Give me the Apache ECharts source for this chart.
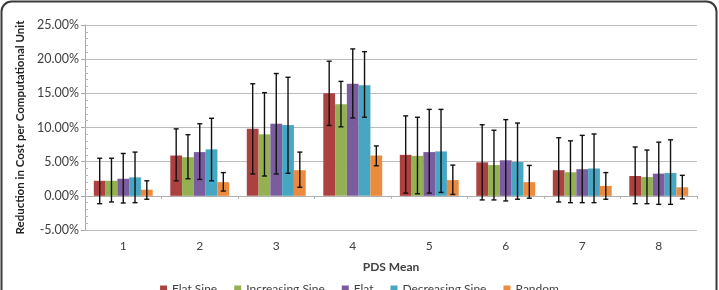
<!DOCTYPE html>
<html>
<head>
<meta charset="utf-8">
<script src="https://cdn.jsdelivr.net/npm/echarts@6/dist/echarts.min.js"></script>
<style>
html,body{margin:0;padding:0;background:#fff;}
#chart{width:719px;height:290px;}
</style>
</head>
<body>
<div id="chart"></div>
<script>
// ---- data (values in %) ----
const categories = ['1','2','3','4','5','6','7','8'];
const seriesNames = ['Flat Sine','Increasing Sine','Flat','Decreasing Sine','Random'];
const seriesColors = ['#AB423F','#93B153','#7B5C9E','#47A6C2','#EC8B3D'];

const flatSine      = [2.2, 5.9, 9.8, 15.0, 6.0, 4.9, 3.75, 2.9];
const flatSineLow   = [-1.15, 2.2, 3.2, 10.3, 0.4, -0.6, -0.9, -1.15];
const flatSineHigh  = [5.5, 9.8, 16.4, 19.7, 11.7, 10.4, 8.5, 7.15];

const incSine       = [2.2, 5.65, 9.0, 13.4, 5.85, 4.5, 3.45, 2.75];
const incSineLow    = [-0.9, 2.5, 2.9, 10.1, 0.3, -0.6, -1.0, -1.15];
const incSineHigh   = [5.5, 8.95, 15.1, 16.75, 11.5, 9.6, 8.05, 6.7];

const flat          = [2.5, 6.4, 10.55, 16.4, 6.4, 5.2, 3.9, 3.25];
const flatLow       = [-1.05, 2.4, 3.2, 11.4, 0.4, -0.75, -1.0, -1.25];
const flatHigh      = [6.2, 10.55, 17.9, 21.5, 12.65, 11.15, 8.85, 7.85];

const decSine       = [2.7, 6.8, 10.35, 16.2, 6.5, 4.95, 4.0, 3.35];
const decSineLow    = [-1.0, 2.2, 3.3, 11.5, 0.5, -0.5, -1.0, -1.25];
const decSineHigh   = [6.4, 11.35, 17.35, 21.1, 12.65, 10.65, 9.05, 8.2];

const random        = [0.9, 2.0, 3.75, 5.9, 2.3, 2.0, 1.45, 1.25];
const randomLow     = [-0.5, 0.7, 1.25, 4.4, 0.2, -0.35, -0.5, -0.45];
const randomHigh    = [2.2, 3.4, 6.4, 7.3, 4.5, 4.45, 3.4, 3.0];

const yMin = -5, yMax = 25, yStep = 5;

const values = [flatSine, incSine, flat, decSine, random];
const lows   = [flatSineLow, incSineLow, flatLow, decSineLow, randomLow];
const highs  = [flatSineHigh, incSineHigh, flatHigh, decSineHigh, randomHigh];

// ---- chart ----
const GAP = 0.23;
const FONT = 'Lato, "Liberation Sans", sans-serif';
const chart = echarts.init(document.getElementById('chart'));

const series = [];
seriesNames.forEach((name, i) => {
  series.push({
    name: name, type: 'bar', xAxisIndex: 0, yAxisIndex: 0,
    data: values[i], barGap: '0%', barCategoryGap: (GAP*100)+'%',
    itemStyle: {color: seriesColors[i]}, z: 2
  });
});
seriesNames.forEach((name, i) => {
  series.push({
    type: 'custom', xAxisIndex: 0, yAxisIndex: 0, z: 5, silent: true,
    data: categories.map((c, k) => [k, lows[i][k], highs[i][k]]),
    renderItem: function (params, api) {
      const x = api.value(0);
      const lo = api.coord([x, api.value(1)]);
      const hi = api.coord([x, api.value(2)]);
      const band = api.size([1, 0])[0];
      const bw = band * (1 - GAP) / seriesNames.length;
      const cx = lo[0] + (i - (seriesNames.length - 1) / 2) * bw;
      const cap = 2.5;
      const style = {stroke: '#111', lineWidth: 1.4};
      return {type: 'group', children: [
        {type: 'line', shape: {x1: cx, y1: lo[1], x2: cx, y2: hi[1]}, style: style},
        {type: 'line', shape: {x1: cx - cap, y1: lo[1], x2: cx + cap, y2: lo[1]}, style: style},
        {type: 'line', shape: {x1: cx - cap, y1: hi[1], x2: cx + cap, y2: hi[1]}, style: style}
      ]};
    }
  });
});

chart.setOption({
  backgroundColor: '#fff',
  animation: false,
  textStyle: {fontFamily: FONT},
  graphic: [{
    type: 'rect', shape: {x: 1.5, y: 1.5, width: 715, height: 320, r: 10},
    style: {fill: 'none', stroke: '#3a3a3a', lineWidth: 2}, z: 100
  }],
  grid: {left: 85, right: 22, top: 25, bottom: 60, containLabel: false},
  legend: {
    data: seriesNames, top: 278, left: 'center',
    icon: 'rect', itemWidth: 7, itemHeight: 7, itemGap: 17,
    textStyle: {fontFamily: FONT, fontSize: 12, color: '#404040'}
  },
  xAxis: [{
    type: 'category', data: categories, position: 'bottom',
    axisLine: {show: false, onZero: false}, axisTick: {show: false},
    axisLabel: {margin: 10, fontSize: 12, color: '#404040', fontFamily: FONT},
    name: 'PDS Mean', nameLocation: 'middle', nameGap: 31,
    nameTextStyle: {fontWeight: 'bold', fontSize: 12, color: '#404040', fontFamily: FONT}
  }, {
    type: 'category', data: categories, position: 'bottom',
    axisLine: {show: true, onZero: true, onZeroAxisIndex: 0, lineStyle: {color: '#b0b0b0', width: 1}},
    axisTick: {show: true, length: 3, interval: 0, lineStyle: {color: '#b0b0b0'}},
    axisLabel: {show: false}
  }],
  yAxis: [{
    type: 'value', min: yMin, max: yMax, interval: yStep,
    axisLine: {show: true, lineStyle: {color: '#a8a8a8'}},
    axisTick: {show: true, length: 4, lineStyle: {color: '#a8a8a8'}},
    axisLabel: {margin: 6, fontSize: 12.5, color: '#404040', fontFamily: FONT,
      formatter: v => v.toFixed(2) + '%'},
    splitLine: {show: true, lineStyle: {color: '#bcbcbc', width: 1}},
    name: 'Reduction in Cost per Computational Unit', nameLocation: 'middle', nameGap: 52,
    nameTextStyle: {fontWeight: 'bold', fontSize: 11.5, color: '#222', fontFamily: FONT}
  }, {
    type: 'value', min: yMin, max: yMax, interval: 1, position: 'left',
    axisLine: {show: false}, axisLabel: {show: false}, splitLine: {show: false},
    axisTick: {show: true, inside: true, length: 3, lineStyle: {color: '#b8b8b8'}}
  }],
  series: series
});
</script>
</body>
</html>
